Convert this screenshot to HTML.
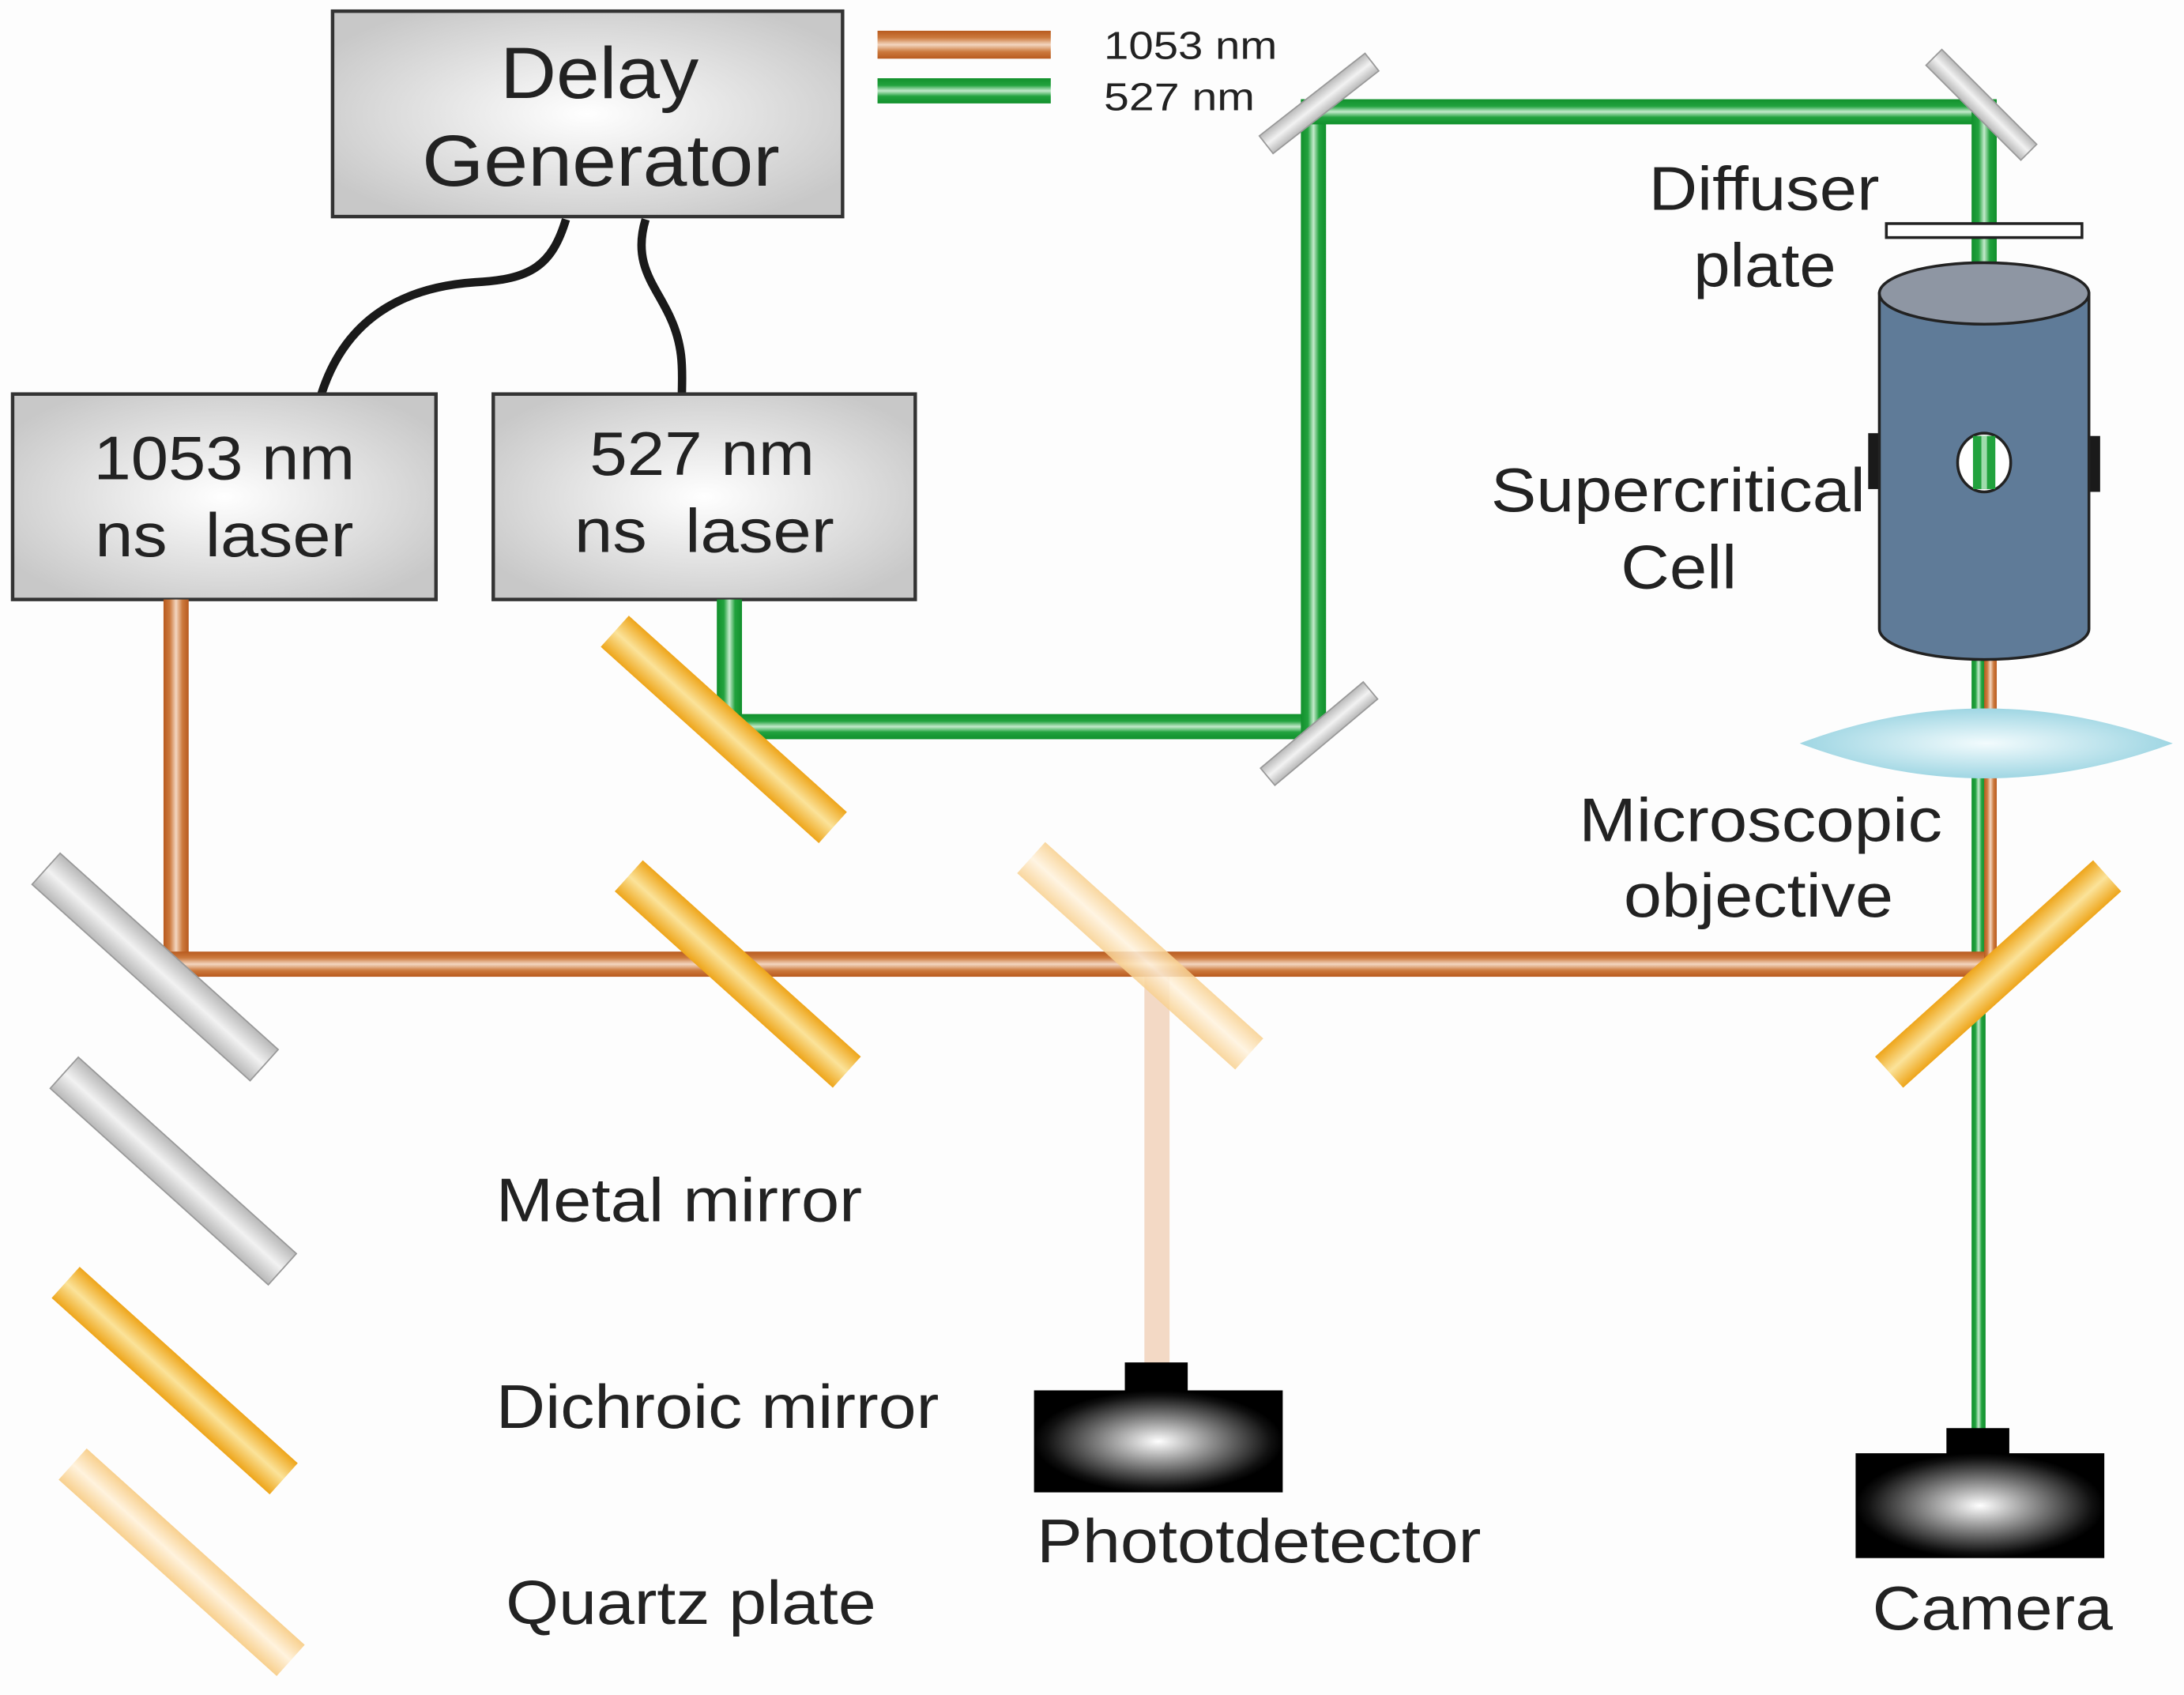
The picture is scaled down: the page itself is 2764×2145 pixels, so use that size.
<!DOCTYPE html>
<html><head><meta charset="utf-8"><style>html,body{margin:0;padding:0;background:#fdfdfd}svg{display:block}</style></head>
<body>
<svg width="2764" height="2145" viewBox="0 0 1563 1213" xmlns="http://www.w3.org/2000/svg" font-family="Liberation Sans, Arial, sans-serif">
<defs>
<radialGradient id="box" cx="50%" cy="50%" r="60%"><stop offset="0" stop-color="#ffffff"/><stop offset="1" stop-color="#c8c8c8"/></radialGradient>
<radialGradient id="det" cx="50%" cy="50%" r="50%"><stop offset="0" stop-color="#ffffff"/><stop offset="0.9" stop-color="#111"/><stop offset="1" stop-color="#000"/></radialGradient>
<linearGradient id="oh" x1="0" y1="0" x2="0" y2="1"><stop offset="0" stop-color="#b85a1e"/><stop offset="0.25" stop-color="#cc7a3e"/><stop offset="0.5" stop-color="#f3d6c0"/><stop offset="0.75" stop-color="#cc7a3e"/><stop offset="1" stop-color="#b85a1e"/></linearGradient>
<linearGradient id="ov" x1="0" y1="0" x2="1" y2="0"><stop offset="0" stop-color="#b85a1e"/><stop offset="0.25" stop-color="#cc7a3e"/><stop offset="0.5" stop-color="#f3d6c0"/><stop offset="0.75" stop-color="#cc7a3e"/><stop offset="1" stop-color="#b85a1e"/></linearGradient>
<linearGradient id="gh" x1="0" y1="0" x2="0" y2="1"><stop offset="0" stop-color="#11902c"/><stop offset="0.28" stop-color="#22a23e"/><stop offset="0.5" stop-color="#c4eacc"/><stop offset="0.72" stop-color="#22a23e"/><stop offset="1" stop-color="#11902c"/></linearGradient>
<linearGradient id="gv" x1="0" y1="0" x2="1" y2="0"><stop offset="0" stop-color="#11902c"/><stop offset="0.28" stop-color="#22a23e"/><stop offset="0.5" stop-color="#c4eacc"/><stop offset="0.72" stop-color="#22a23e"/><stop offset="1" stop-color="#11902c"/></linearGradient>
<linearGradient id="gray" x1="0" y1="0" x2="0" y2="1"><stop offset="0" stop-color="#b8b8b8"/><stop offset="0.5" stop-color="#f2f2f2"/><stop offset="1" stop-color="#b8b8b8"/></linearGradient>
<linearGradient id="yel" x1="0" y1="0" x2="0" y2="1"><stop offset="0" stop-color="#eea51a"/><stop offset="0.5" stop-color="#fbe39a"/><stop offset="1" stop-color="#eea51a"/></linearGradient>
<linearGradient id="qtz" x1="0" y1="0" x2="0" y2="1"><stop offset="0" stop-color="#f8d08e"/><stop offset="0.5" stop-color="#fff3de"/><stop offset="1" stop-color="#f8d08e"/></linearGradient>
<radialGradient id="lens" cx="50%" cy="50%" r="50%"><stop offset="0" stop-color="#f2fbfd"/><stop offset="1" stop-color="#9fd6e3"/></radialGradient>
</defs>

<!-- legend -->
<rect x="628" y="22" width="124" height="20" fill="url(#oh)"/>
<rect x="628" y="56" width="124" height="18" fill="url(#gh)"/>
<text x="790" y="42" font-size="28" fill="#222" textLength="124" lengthAdjust="spacingAndGlyphs">1053 nm</text>
<text x="790" y="79" font-size="28" fill="#222" textLength="108" lengthAdjust="spacingAndGlyphs">527 nm</text>

<!-- cables -->
<path d="M405,157 C395,190 380,200 340,202 C280,206 245,235 230,282" fill="none" stroke="#1a1a1a" stroke-width="6"/>
<path d="M462,157 C452,190 470,205 480,228 C490,250 488,268 488,282" fill="none" stroke="#1a1a1a" stroke-width="6"/>

<!-- boxes -->
<rect x="238" y="8" width="365" height="147" fill="url(#box)" stroke="#333" stroke-width="2.5"/>
<text x="358" y="70" font-size="52" fill="#222" textLength="142" lengthAdjust="spacingAndGlyphs">Delay</text>
<text x="302" y="133" font-size="52" fill="#222" textLength="256" lengthAdjust="spacingAndGlyphs">Generator</text>
<rect x="9" y="282" width="303" height="147" fill="url(#box)" stroke="#333" stroke-width="2.5"/>
<text x="67" y="343" font-size="44" fill="#222" textLength="187" lengthAdjust="spacingAndGlyphs">1053 nm</text>
<text x="68" y="398" font-size="44" fill="#222" xml:space="preserve" textLength="185" lengthAdjust="spacingAndGlyphs">ns  laser</text>
<rect x="353" y="282" width="302" height="147" fill="url(#box)" stroke="#333" stroke-width="2.5"/>
<text x="422" y="340" font-size="44" fill="#222" textLength="161" lengthAdjust="spacingAndGlyphs">527 nm</text>
<text x="411" y="395" font-size="44" fill="#222" xml:space="preserve" textLength="186" lengthAdjust="spacingAndGlyphs">ns  laser</text>

<!-- green beams -->
<rect x="513" y="429" width="18" height="100" fill="url(#gv)"/>
<rect x="513" y="511" width="436" height="18" fill="url(#gh)"/>
<rect x="931" y="71" width="18" height="458" fill="url(#gv)"/>
<rect x="931" y="71" width="498" height="18" fill="url(#gh)"/>
<rect x="1411" y="71" width="18" height="140" fill="url(#gv)"/>
<rect x="1411" y="470" width="10" height="555" fill="url(#gv)"/>
<!-- orange beams -->
<rect x="117" y="429" width="18" height="270" fill="url(#ov)"/>
<rect x="117" y="681" width="1311" height="18" fill="url(#oh)"/>
<rect x="1420" y="470" width="9" height="225" fill="url(#ov)"/>
<rect x="819" y="699" width="18" height="278" fill="#f3d9c5"/>

<!-- mirrors -->
<g stroke="#999" stroke-width="1">
<rect x="-105" y="-15" width="210" height="30" fill="url(#gray)" transform="translate(111,692) rotate(42)"/>
<rect x="-105" y="-15" width="210" height="30" fill="url(#gray)" transform="translate(124,838) rotate(42)"/>
</g>
<rect x="-105" y="-15" width="210" height="30" fill="url(#yel)" transform="translate(518,522) rotate(42)"/>
<rect x="-105" y="-15" width="210" height="30" fill="url(#yel)" transform="translate(528,697) rotate(42)"/>
<rect x="-105" y="-15" width="210" height="30" fill="url(#yel)" transform="translate(1430,697) rotate(-42)"/>
<rect x="-105" y="-15" width="210" height="30" fill="url(#yel)" transform="translate(125,988) rotate(42)"/>
<rect x="-105" y="-15" width="210" height="30" fill="url(#qtz)" opacity="0.85" transform="translate(816,684) rotate(42)"/>
<rect x="-105" y="-15" width="210" height="30" fill="url(#qtz)" transform="translate(130,1118) rotate(42)"/>
<g stroke="#999" stroke-width="1" fill="url(#gray)">
<rect x="-48" y="-8" width="96" height="16" transform="translate(944,74) rotate(-38)"/>
<rect x="-48" y="-8" width="96" height="16" transform="translate(1418,75) rotate(45)"/>
<rect x="-48" y="-8" width="96" height="16" transform="translate(944,525) rotate(-40)"/>
</g>

<!-- diffuser -->
<rect x="1350" y="160" width="140" height="10" fill="#fff" stroke="#222" stroke-width="2"/>

<!-- cell -->
<rect x="1337" y="310" width="10" height="40" fill="#1a1a1a"/>
<rect x="1493" y="312" width="10" height="40" fill="#1a1a1a"/>
<path d="M1345,210 L1345,450 A75,22 0 0 0 1495,450 L1495,210 Z" fill="#5f7b98" stroke="#222" stroke-width="2"/>
<ellipse cx="1420" cy="210" rx="75" ry="22" fill="#8e96a3" stroke="#222" stroke-width="2"/>
<ellipse cx="1420" cy="331" rx="19" ry="21" fill="#fff" stroke="#222" stroke-width="2"/>
<rect x="1412" y="312" width="16" height="38" fill="#22a23e"/>
<rect x="1418" y="312" width="4" height="38" fill="#9fdcac"/>

<!-- lens -->
<path d="M1288,532 Q1420,482 1555,532 Q1420,582 1288,532 Z" fill="url(#lens)"/>

<!-- detectors -->
<rect x="805" y="975" width="45" height="22" fill="#000"/>
<rect x="740" y="995" width="178" height="73" fill="url(#det)"/>
<rect x="1393" y="1022" width="45" height="20" fill="#000"/>
<rect x="1328" y="1040" width="178" height="75" fill="url(#det)"/>

<!-- labels -->
<g font-size="44" fill="#222" lengthAdjust="spacingAndGlyphs">
<text x="1180" y="150" textLength="165" lengthAdjust="spacingAndGlyphs">Diffuser</text>
<text x="1212" y="205" textLength="102" lengthAdjust="spacingAndGlyphs">plate</text>
<text x="1067" y="366" textLength="268" lengthAdjust="spacingAndGlyphs">Supercritical</text>
<text x="1160" y="421" textLength="83" lengthAdjust="spacingAndGlyphs">Cell</text>
<text x="1130" y="602" textLength="260" lengthAdjust="spacingAndGlyphs">Microscopic</text>
<text x="1162" y="656" textLength="193" lengthAdjust="spacingAndGlyphs">objective</text>
<text x="355" y="874" textLength="262" lengthAdjust="spacingAndGlyphs">Metal mirror</text>
<text x="355" y="1022" textLength="317" lengthAdjust="spacingAndGlyphs">Dichroic mirror</text>
<text x="362" y="1162" textLength="265" lengthAdjust="spacingAndGlyphs">Quartz plate</text>
<text x="742" y="1118" textLength="318" lengthAdjust="spacingAndGlyphs">Phototdetector</text>
<text x="1340" y="1166" textLength="172" lengthAdjust="spacingAndGlyphs">Camera</text>
</g>
</svg>
</body></html>
